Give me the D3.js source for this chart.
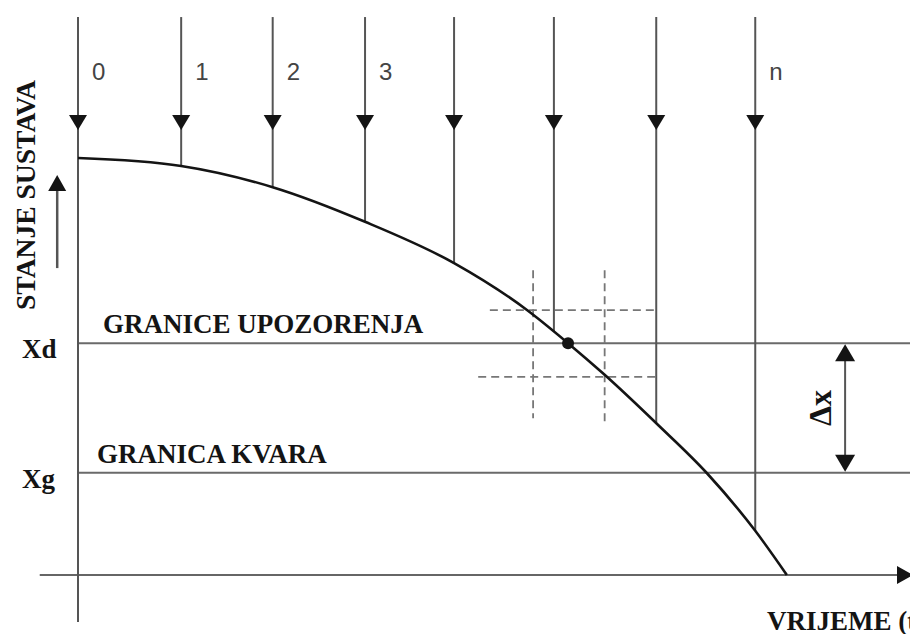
<!DOCTYPE html>
<html>
<head>
<meta charset="utf-8">
<script src="https://cdn.jsdelivr.net/npm/d3@7"></script>
<style>
  html, body { margin: 0; padding: 0; background: #fff; }
  svg { display: block; }
</style>
</head>
<body>
<svg id="chart" width="910" height="634"></svg>
<script>
// ---- data (time units 0..100, state units 0..100) ----
const inspectionTimes  = [0, 12.4, 23.4, 34.5, 45.2, 57.2, 69.5, 81.4];
const inspectionLabels = ["0", "1", "2", "3", "", "", "", "n"];
const curveTimes  = [0, 12.4, 23.4, 34.5, 45.2, 54.0, 58.9, 63.3, 69.6, 75.6, 81.4, 85.2];
const curveStates = [100, 98.1, 93.0, 84.7, 74.8, 63.5, 55.6, 48.0, 36.2, 24.4, 10.6, 0];
const limitNames  = ["Xd", "Xg"];
const limitStates = [55.6, 24.5];
const limitTitles = ["GRANICE UPOZORENJA", "GRANICA KVARA"];
const dotTime = 58.9;
const dashStates = [63.5, 47.5];
const dashStateStarts = [49.5, 48.1];
const dashTimes = [54.7, 63.3];
const dashTimeEnds = [37.6, 36.0];
const dashEndTime = 69.6;
const dashTopState = 73.1;
const deltaTime = 92.2;
const axisTitles = ["STANJE SUSTAVA", "VRIJEME (t)"];

// ---- scales ----
const x = d3.scaleLinear().domain([0, 100]).range([78, 910]);
const y = d3.scaleLinear().domain([0, 100]).range([575, 158]);
const svg = d3.select("#chart");

const serif = "'Liberation Serif', 'Times New Roman', serif";
const sans = "'Liberation Sans', Arial, sans-serif";
const lineGrey = "#555";
const ink = "#141414";

function curveAt(t) {
  for (let i = 1; i < curveTimes.length; i++) {
    if (t <= curveTimes[i]) {
      const a = curveTimes[i - 1], b = curveTimes[i];
      const f = (t - a) / (b - a);
      return curveStates[i - 1] + f * (curveStates[i] - curveStates[i - 1]);
    }
  }
  return curveStates[curveStates.length - 1];
}
function triDown(cx, tipY, w, h) {
  return `M${cx - w / 2},${tipY - h}L${cx + w / 2},${tipY - h}L${cx},${tipY}Z`;
}
function triUp(cx, tipY, w, h) {
  return `M${cx - w / 2},${tipY + h}L${cx + w / 2},${tipY + h}L${cx},${tipY}Z`;
}
function triRight(tipX, cy, w, h) {
  return `M${tipX - w},${cy - h / 2}L${tipX - w},${cy + h / 2}L${tipX},${cy}Z`;
}

const topState = 133.8, headState = 106.7;

// ---- limit lines ----
svg.selectAll("line.limit").data(limitStates).join("line")
  .attr("class", "limit")
  .attr("x1", x(0)).attr("x2", x(100))
  .attr("y1", d => y(d)).attr("y2", d => y(d))
  .attr("stroke", "#6a6a6a").attr("stroke-width", 2);

// ---- x axis ----
svg.append("line")
  .attr("x1", x(-4.6)).attr("x2", x(98.5))
  .attr("y1", y(0)).attr("y2", y(0))
  .attr("stroke", "#666").attr("stroke-width", 2);
svg.append("path").attr("d", triRight(x(100) + 3, y(0), 16, 18)).attr("fill", ink);

// ---- dashed guides ----
dashStates.forEach((s, i) => {
  svg.append("line")
    .attr("x1", x(dashStateStarts[i])).attr("x2", x(dashEndTime))
    .attr("y1", y(s)).attr("y2", y(s))
    .attr("stroke", "#777").attr("stroke-width", 1.8)
    .attr("stroke-dasharray", "8,5");
});
dashTimes.forEach((t, i) => {
  svg.append("line")
    .attr("x1", x(t)).attr("x2", x(t))
    .attr("y1", y(dashTopState)).attr("y2", y(dashTimeEnds[i]))
    .attr("stroke", "#777").attr("stroke-width", 1.8)
    .attr("stroke-dasharray", "8,5");
});

// ---- inspection arrows ----
inspectionTimes.forEach((t, i) => {
  const endState = i === 0 ? -11.3 : curveAt(t);
  svg.append("line")
    .attr("x1", x(t)).attr("x2", x(t))
    .attr("y1", y(topState)).attr("y2", y(endState))
    .attr("stroke", lineGrey).attr("stroke-width", 2);
  svg.append("path").attr("d", triDown(x(t), y(headState), 18, 15)).attr("fill", ink);
  if (inspectionLabels[i]) {
    svg.append("text")
      .attr("x", x(t) + 14).attr("y", 80)
      .style("font-family", sans).style("font-size", "24px")
      .attr("fill", "#444")
      .text(inspectionLabels[i]);
  }
});

// ---- degradation curve ----
const line = d3.line()
  .x(d => x(d[0])).y(d => y(d[1]))
  .curve(d3.curveMonotoneX);
svg.append("path")
  .datum(curveTimes.map((t, i) => [t, curveStates[i]]))
  .attr("d", line)
  .attr("fill", "none").attr("stroke", ink).attr("stroke-width", 2.6);

// ---- dot ----
svg.append("circle")
  .attr("cx", x(dotTime)).attr("cy", y(limitStates[0]))
  .attr("r", 6).attr("fill", ink);

// ---- delta x arrow ----
svg.append("line")
  .attr("x1", x(deltaTime)).attr("x2", x(deltaTime))
  .attr("y1", y(limitStates[0]) + 10).attr("y2", y(limitStates[1]) - 10)
  .attr("stroke", "#555").attr("stroke-width", 2);
svg.append("path").attr("d", triUp(x(deltaTime), y(limitStates[0]) + 1, 20, 17)).attr("fill", ink);
svg.append("path").attr("d", triDown(x(deltaTime), y(limitStates[1]) - 1, 20, 17)).attr("fill", ink);
svg.append("text")
  .attr("transform", `translate(${x(deltaTime) - 14},${(y(limitStates[0]) + y(limitStates[1])) / 2}) rotate(-90)`)
  .attr("text-anchor", "middle")
  .style("font-family", serif).style("font-weight", "bold").style("font-size", "32px")
  .attr("fill", ink)
  .text("Δx");

// ---- y-axis up arrow ----
svg.append("line")
  .attr("x1", x(-2.5)).attr("x2", x(-2.5))
  .attr("y1", y(73.6)).attr("y2", y(93))
  .attr("stroke", "#555").attr("stroke-width", 2.5);
svg.append("path").attr("d", triUp(x(-2.5), y(95.9), 18, 16)).attr("fill", ink);

// ---- texts ----
svg.append("text")
  .attr("transform", `translate(35,195) rotate(-90)`)
  .attr("text-anchor", "middle")
  .style("font-family", serif).style("font-weight", "bold").style("font-size", "27px")
  .attr("fill", ink)
  .attr("textLength", 230).attr("lengthAdjust", "spacingAndGlyphs")
  .text(axisTitles[0]);

svg.selectAll("text.limname").data(limitStates).join("text")
  .attr("class", "limname")
  .attr("x", 22).attr("y", d => y(d) + 15)
  .style("font-family", serif).style("font-weight", "bold").style("font-size", "27px")
  .attr("fill", ink)
  .text((d, i) => limitNames[i]);

svg.selectAll("text.limtitle").data(limitStates).join("text")
  .attr("class", "limtitle")
  .attr("x", (d, i) => i === 0 ? 103 : 97)
  .attr("y", d => y(d) - 10)
  .style("font-family", serif).style("font-weight", "bold").style("font-size", "27px")
  .attr("fill", ink)
  .text((d, i) => limitTitles[i]);

svg.append("text")
  .attr("x", 767).attr("y", 630)
  .style("font-family", serif).style("font-weight", "bold").style("font-size", "27px")
  .attr("fill", ink)
  .text(axisTitles[1]);
</script>
</body>
</html>
